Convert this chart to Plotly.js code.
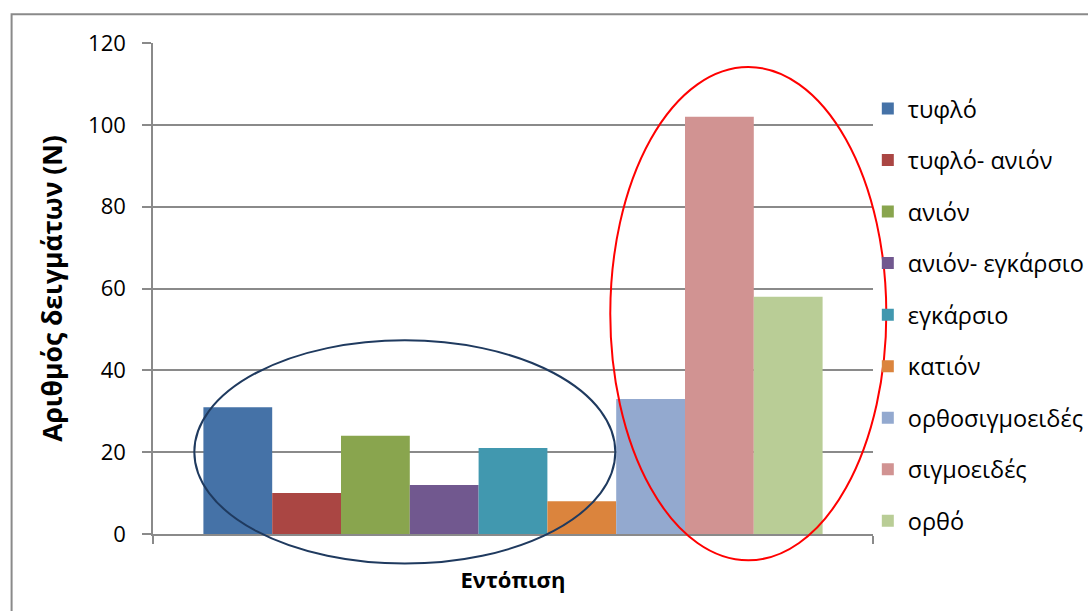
<!DOCTYPE html>
<html>
<head>
<meta charset="utf-8">
<script src="https://cdn.plot.ly/plotly-3.0.1.min.js"></script>
<style>
html,body{margin:0;padding:0;background:#fff;}
#chart{width:1088px;height:611px;}
</style>
</head>
<body>
<div id="chart"></div>
<script>
// ---- data ----
const categories = ['Εντόπιση'];
const seriesNames = ['τυφλό', 'τυφλό- ανιόν', 'ανιόν', 'ανιόν- εγκάρσιο', 'εγκάρσιο', 'κατιόν', 'ορθοσιγμοειδές', 'σιγμοειδές', 'ορθό'];
const seriesValues = [31, 10, 24, 12, 21, 8, 33, 102, 58];
const seriesColors = ['#4572A7', '#AA4643', '#89A54E', '#71588F', '#4198AF', '#DB843D', '#93A9CF', '#D19392', '#B9CD96'];
const yTitle = 'Αριθμός δειγμάτων (N)';
const xTitle = 'Εντόπιση';
const yTicks = [0, 20, 40, 60, 80, 100, 120];

const FONT = 'Open Sans, Noto Sans, DejaVu Sans, sans-serif';
const GRAY = '#8a8a8a';

const traces = seriesNames.map((name, i) => ({
  type: 'bar',
  name: name,
  x: categories,
  y: [seriesValues[i]],
  marker: {color: seriesColors[i], line: {width: 0}},
  legendgroup: 'g' + i,
  hoverinfo: 'name+y'
}));

const layout = {
  width: 1088,
  height: 611,
  margin: {l: 152.7, r: 215.3, t: 42.7, b: 77.3, autoexpand: false},
  paper_bgcolor: '#ffffff',
  plot_bgcolor: '#ffffff',
  font: {family: FONT, color: '#000000', size: 21},
  barmode: 'group',
  bargap: 0.14,
  bargroupgap: 0,
  showlegend: true,
  legend: {
    x: 0.9928, xanchor: 'left',
    y: 0.911, yanchor: 'top',
    font: {family: FONT, size: 23.5, color: '#000'},
    tracegroupgap: 18,
    bgcolor: 'rgba(0,0,0,0)',
    traceorder: 'grouped'
  },
  xaxis: {
    type: 'category',
    showticklabels: false,
    showline: true, linecolor: GRAY, linewidth: 1.5,
    ticks: 'outside', tickson: 'boundaries', ticklen: 8, tickcolor: GRAY, tickwidth: 1.5,
    showgrid: false, zeroline: false,
    title: {text: xTitle, font: {family: FONT, size: 22, color: '#000', weight: 'bold'}, standoff: 38}
  },
  yaxis: {
    range: [0, 120],
    tickvals: yTicks,
    ticktext: yTicks.map(String),
    showline: true, linecolor: GRAY, linewidth: 1.5,
    ticks: 'outside', ticklen: 9, tickcolor: GRAY, tickwidth: 1.5,
    ticklabelstandoff: 12,
    showgrid: true, gridcolor: GRAY, gridwidth: 1.5,
    zeroline: false,
    tickfont: {family: FONT, size: 22, color: '#000'},
    title: {text: yTitle, font: {family: FONT, size: 26.5, color: '#000', weight: 'bold'}, standoff: 18}
  },
  shapes: [
    // outer chart border (left + top visible)
    {type: 'path', xref: 'paper', yref: 'paper',
     path: 'M -0.1964,-0.2 L -0.1964,1.0585 L 1.35,1.0585',
     line: {color: GRAY, width: 2}, layer: 'above'},
    // blue ellipse around left group
    {type: 'circle', xref: 'paper', yref: 'paper',
     x0: 0.0574, x1: 0.6421, y0: -0.0603, y1: 0.3945,
     line: {color: '#1F3A5F', width: 2}, fillcolor: 'rgba(0,0,0,0)', layer: 'above'},
    // red ellipse around right group
    {type: 'circle', xref: 'paper', yref: 'paper',
     x0: 0.6351, x1: 1.0185, y0: -0.0536, y1: 0.9511,
     line: {color: '#FF0000', width: 2}, fillcolor: 'rgba(0,0,0,0)', layer: 'above'}
  ]
};

Plotly.newPlot('chart', traces, layout, {displayModeBar: false, responsive: false});
</script>
</body>
</html>
